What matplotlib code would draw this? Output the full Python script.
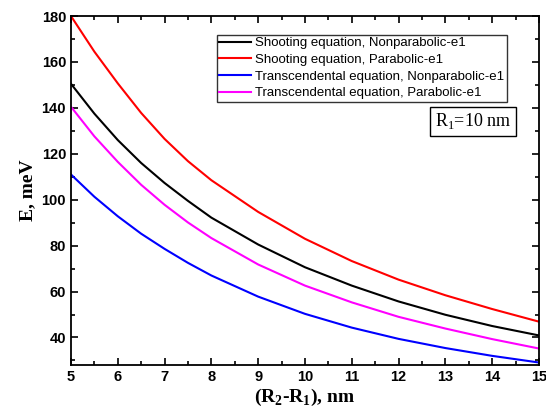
import matplotlib
matplotlib.use("Agg")
import matplotlib.pyplot as plt
from matplotlib.ticker import MultipleLocator

x = [5, 5.5, 6, 6.5, 7, 7.5, 8, 9, 10, 11, 12, 13, 14, 15]
shoot_nonpar = [150.5, 137.5, 126.0, 116.0, 107.3, 99.5, 92.2, 80.5, 70.6, 62.6, 55.7, 49.9, 45.0, 40.9]
shoot_par = [180.0, 164.5, 150.7, 137.8, 126.5, 116.8, 108.5, 94.7, 83.0, 73.3, 65.2, 58.4, 52.4, 46.9]
trans_nonpar = [111.0, 101.3, 92.8, 85.2, 78.6, 72.5, 67.0, 57.8, 50.3, 44.3, 39.4, 35.4, 32.0, 29.1]
trans_par = [140.5, 127.6, 116.5, 106.5, 97.8, 90.1, 83.3, 71.8, 62.6, 55.3, 49.0, 43.9, 39.3, 35.2]

labels = ["Shooting equation, Nonparabolic-e1",
          "Shooting equation, Parabolic-e1",
          "Transcendental equation, Nonparabolic-e1",
          "Transcendental equation, Parabolic-e1"]
colors = ["black", "red", "blue", "magenta"]

plt.rcParams["mathtext.fontset"] = "custom"
plt.rcParams["mathtext.rm"] = "Liberation Serif"
plt.rcParams["mathtext.bf"] = "Liberation Serif:bold"

fig = plt.figure(figsize=(5.46, 4.12), dpi=100)
ax = fig.add_axes([0.130, 0.114, 0.857, 0.847])

for ys, lab, c in zip([shoot_nonpar, shoot_par, trans_nonpar, trans_par], labels, colors):
    ax.plot(x, ys, color=c, lw=1.5, label=lab)

ax.set_xlim(5, 15)
ax.set_ylim(28, 180)
ax.xaxis.set_major_locator(MultipleLocator(1))
ax.xaxis.set_minor_locator(MultipleLocator(0.5))
ax.yaxis.set_major_locator(MultipleLocator(20))
ax.yaxis.set_minor_locator(MultipleLocator(10))
ax.tick_params(which="both", direction="in", top=True, right=True, width=1.2)
ax.tick_params(which="major", length=5)
ax.tick_params(which="minor", length=3)
for s in ax.spines.values():
    s.set_linewidth(1.3)

for lbl in ax.get_xticklabels() + ax.get_yticklabels():
    lbl.set_fontfamily("Liberation Sans")
    lbl.set_fontweight("bold")
    lbl.set_fontsize(10.5)

ax.set_xlabel(r"(R$_\mathbf{2}$-R$_\mathbf{1}$), nm", fontfamily="Liberation Serif",
              fontweight="bold", fontsize=14, labelpad=2)
ax.set_ylabel("E, meV", fontfamily="Liberation Serif", fontweight="bold", fontsize=14, labelpad=4)

leg = ax.legend(loc="upper left", bbox_to_anchor=(0.311, 0.947), frameon=True, fancybox=False,
                edgecolor="black", prop={"family": "Liberation Sans", "size": 9.5},
                handlelength=2.4, handletextpad=0.3, labelspacing=0.33, borderpad=0.2,
                borderaxespad=0.0)
leg.get_frame().set_linewidth(1.0)

ax.text(0.941, 0.670, r"R$_\mathregular{1}$=10 nm", transform=ax.transAxes, ha="right", va="bottom",
        fontfamily="Liberation Serif", fontsize=13,
        bbox=dict(boxstyle="square,pad=0.25", fc="white", ec="black", lw=1.0))

fig.savefig("out.png", dpi=100)
